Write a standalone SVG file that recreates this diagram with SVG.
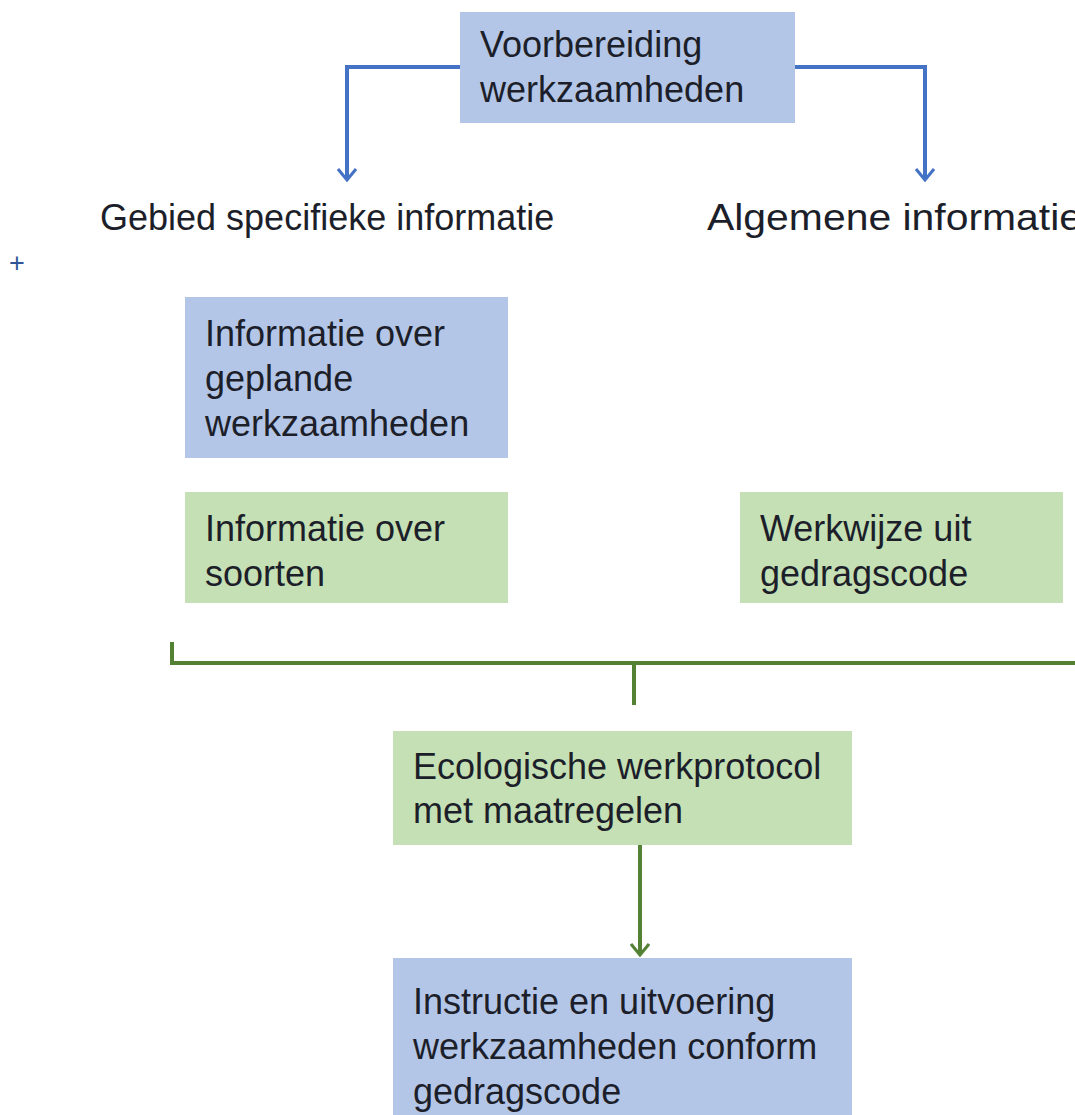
<svg xmlns="http://www.w3.org/2000/svg" width="1075" height="1115" viewBox="0 0 1075 1115">
<defs>
<style>
.t{font-family:"Liberation Sans",Arial,sans-serif;font-size:36px;fill:#1c1f2a}
.blue{fill:#b4c6e7}
.green{fill:#c5e0b4}
.bl{stroke:#4472c4;stroke-width:4;fill:none}
.gl{stroke:#548235;stroke-width:4;fill:none}
</style>
<marker id="ab" viewBox="0 0 20 20" refX="18" refY="10" markerWidth="20" markerHeight="20" markerUnits="userSpaceOnUse" orient="auto">
<polyline points="7,1 18,10 7,19" fill="none" stroke="#4472c4" stroke-width="3"/>
</marker>
<marker id="ag" viewBox="0 0 20 20" refX="18" refY="10" markerWidth="20" markerHeight="20" markerUnits="userSpaceOnUse" orient="auto">
<polyline points="7,1 18,10 7,19" fill="none" stroke="#548235" stroke-width="3"/>
</marker>
</defs>
<rect width="1075" height="1115" fill="#ffffff"/>
<g id="connectors">
<path class="bl" d="M460,67 H347 V180" marker-end="url(#ab)"/>
<path class="bl" d="M795,67 H925 V180" marker-end="url(#ab)"/>
<path class="gl" d="M172,642 V663 H1075 M634,663 V705"/>
<path class="gl" d="M640,845 V955" marker-end="url(#ag)"/>
</g>
<g id="n-voorbereiding">
<rect class="blue" x="460" y="12" width="335" height="111"/>
<text class="t" x="480" y="57">Voorbereiding</text>
<text class="t" x="480" y="102">werkzaamheden</text>
</g>
<g id="n-gebied">
<text class="t" x="100" y="230">Gebied specifieke informatie</text>
</g>
<g id="n-algemeen">
<text class="t" x="707" y="230" textLength="375" lengthAdjust="spacingAndGlyphs">Algemene informatie</text>
</g>
<text x="9" y="272" font-family="Liberation Sans,Arial,sans-serif" font-size="27" fill="#2f5597">+</text>
<g id="n-geplande">
<rect class="blue" x="185" y="297" width="323" height="161"/>
<text class="t" x="205" y="346">Informatie over</text>
<text class="t" x="205" y="391">geplande</text>
<text class="t" x="205" y="436">werkzaamheden</text>
</g>
<g id="n-soorten">
<rect class="green" x="185" y="492" width="323" height="111"/>
<text class="t" x="205" y="541">Informatie over</text>
<text class="t" x="205" y="586">soorten</text>
</g>
<g id="n-werkwijze">
<rect class="green" x="740" y="492" width="323" height="111"/>
<text class="t" x="760" y="541">Werkwijze uit</text>
<text class="t" x="760" y="586">gedragscode</text>
</g>
<g id="n-protocol">
<rect class="green" x="393" y="731" width="459" height="114"/>
<text class="t" x="413" y="779">Ecologische werkprotocol</text>
<text class="t" x="413" y="823">met maatregelen</text>
</g>
<g id="n-instructie">
<rect class="blue" x="393" y="958" width="459" height="157"/>
<text class="t" x="413" y="1014">Instructie en uitvoering</text>
<text class="t" x="413" y="1059">werkzaamheden conform</text>
<text class="t" x="413" y="1104">gedragscode</text>
</g>
</svg>
